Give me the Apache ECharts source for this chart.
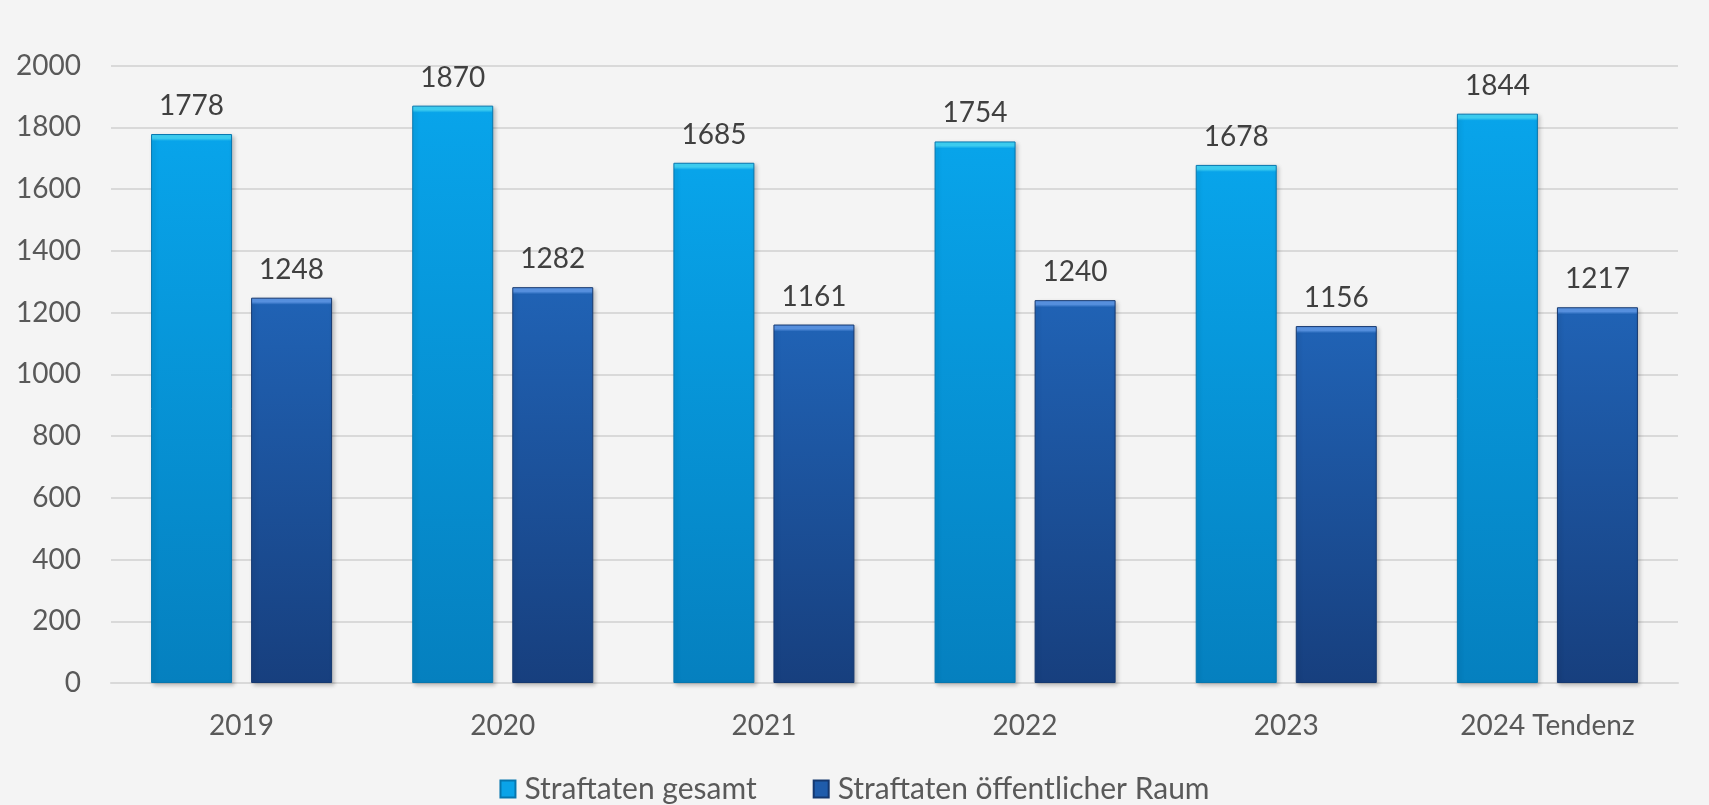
<!DOCTYPE html>
<html>
<head>
<meta charset="utf-8">
<script src="https://cdn.jsdelivr.net/npm/echarts@6/dist/echarts.min.js"></script>
<style>
  html, body { margin: 0; padding: 0; background: #f4f4f4; }
  #chart { width: 1709px; height: 805px; }
</style>
</head>
<body>
<div id="chart"></div>
<script>
// Daten
var years = ['2019', '2020', '2021', '2022', '2023', '2024 Tendenz'];
var gesamt = [1778, 1870, 1685, 1754, 1678, 1844];
var oeffentlich = [1248, 1282, 1161, 1240, 1156, 1217];
var seriesNames = ['Straftaten gesamt', 'Straftaten öffentlicher Raum'];
var yMax = 2000;

var FONT = 'Lato';
var PX_PER_UNIT = (683 - 65.5) / yMax; // nur fuer die Abschraegung oben

// Balken mit heller Kante oben (Abschraegung)
function bevelItems(values, bevel, top, bottom) {
  return values.map(function (v) {
    var f = Math.min(0.3, 7 / (v * PX_PER_UNIT));
    return {
      value: v,
      itemStyle: {
        color: {
          type: 'linear', x: 0, y: 0, x2: 0, y2: 1,
          colorStops: [
            { offset: 0, color: bevel },
            { offset: f * 0.6, color: bevel },
            { offset: f, color: top },
            { offset: 1, color: bottom }
          ]
        }
      }
    };
  });
}

var chart = echarts.init(document.getElementById('chart'));

var option = {
  backgroundColor: '#f4f4f4',
  animation: false,
  grid: { left: 111, right: 31, top: 65.5, bottom: 122, containLabel: false },
  legend: {
    bottom: -4,
    left: 'center',
    itemWidth: 15,
    itemHeight: 17,
    itemGap: 56,
    textStyle: { fontFamily: FONT, fontSize: 30, color: '#595959', padding: [0, 0, 0, 4] },
    data: [
      { name: seriesNames[0], icon: 'rect' },
      { name: seriesNames[1], icon: 'rect' }
    ]
  },
  xAxis: {
    type: 'category',
    data: years,
    axisLine: { lineStyle: { color: '#d9d9d9', width: 2 } },
    axisTick: { show: false },
    axisLabel: { fontFamily: FONT, fontSize: 28, color: '#595959', margin: 29 }
  },
  yAxis: {
    type: 'value',
    min: 0,
    max: yMax,
    interval: 200,
    axisLine: { show: false },
    axisTick: { show: false },
    axisLabel: {
      fontFamily: FONT, fontSize: 28, color: '#595959', margin: 30,
      formatter: function (v) { return String(v); }
    },
    splitLine: { lineStyle: { color: '#d9d9d9', width: 2 } }
  },
  series: [
    {
      name: seriesNames[0],
      type: 'bar',
      barWidth: 81,
      barGap: '23.5%',
      color: '#0aa3e8',
      data: bevelItems(gesamt, '#3fd3f7', '#08a4ea', '#0580bf'),
      itemStyle: {
        borderColor: '#0676ae',
        borderWidth: 1,
        shadowColor: 'rgba(0,0,0,0.22)',
        shadowBlur: 4,
        shadowOffsetX: 2,
        shadowOffsetY: 2
      },
      label: {
        show: true,
        position: 'top',
        distance: 14,
        fontFamily: FONT,
        fontSize: 28,
        color: '#404040'
      }
    },
    {
      name: seriesNames[1],
      type: 'bar',
      barWidth: 81,
      color: '#1f5cab',
      data: bevelItems(oeffentlich, '#5a95e6', '#2062b4', '#173f7e'),
      itemStyle: {
        borderColor: '#15386f',
        borderWidth: 1,
        shadowColor: 'rgba(0,0,0,0.22)',
        shadowBlur: 4,
        shadowOffsetX: 2,
        shadowOffsetY: 2
      },
      label: {
        show: true,
        position: 'top',
        distance: 14,
        fontFamily: FONT,
        fontSize: 28,
        color: '#404040'
      }
    }
  ]
};

chart.setOption(option);
</script>
</body>
</html>
